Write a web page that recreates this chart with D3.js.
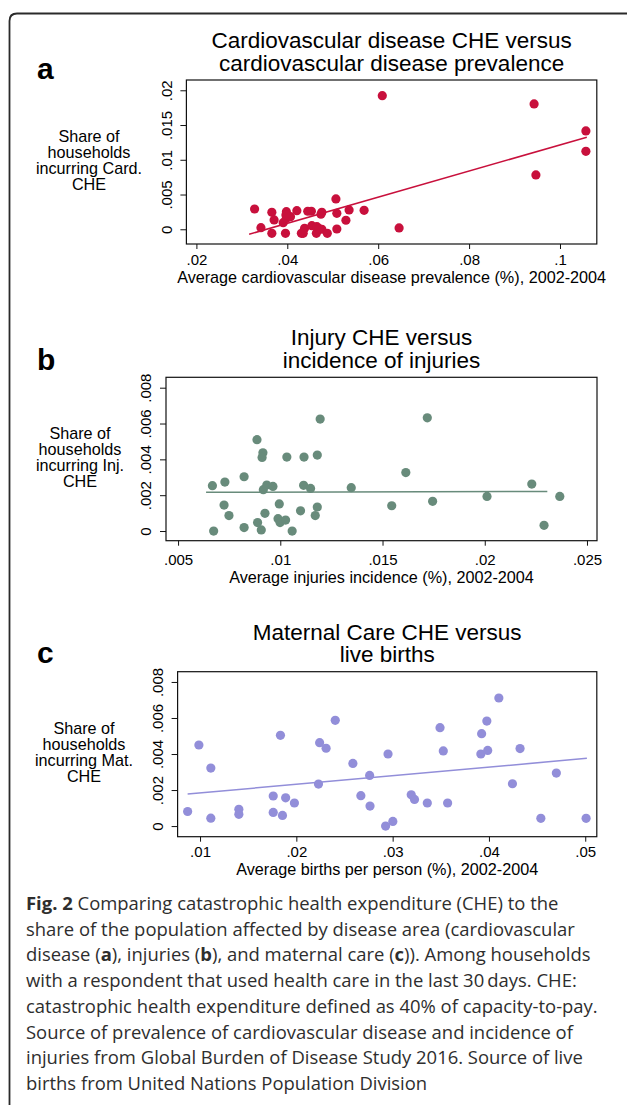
<!DOCTYPE html>
<html>
<head>
<meta charset="utf-8">
<script src="https://cdn.jsdelivr.net/npm/d3@7"></script>
<style>
html,body{margin:0;padding:0;background:#fff;}
svg{display:block;}
</style>
</head>
<body>
<svg id="chart" width="627" height="1105"></svg>
<script>
// ---------------- DATA ----------------
// Panel a: cardiovascular disease
const cardX = [0.0609,0.0943,0.1057,0.1057,0.0947,0.0646,0.0507,0.0328,0.0366,0.0398,0.0421,0.0445,0.0453,0.0476,0.0474,0.0509,0.0536,0.0569,0.0529,0.0342,0.0371,0.0391,0.0398,0.0407,0.0397,0.0366,0.0396,0.0431,0.0438,0.0454,0.0465,0.0464,0.0476,0.0488,0.0509,0.0435,0.0470];
const cardY = [0.01923,0.01803,0.01415,0.01122,0.00782,0.0002,0.00436,0.00292,0.00245,0.00253,0.00268,0.00259,0.00259,0.00245,0.00216,0.0023,0.00278,0.00273,0.0013,0.00023,0.00134,0.00095,0.00158,0.00181,0.00206,-0.00058,-0.00058,-0.00058,0.00014,0.00052,0.00037,-0.00058,0.0,-0.00058,0.00004,-0.00058,0.0001];
const cardFitX = [0.0316, 0.1059];
const cardFitY = [-0.00072, 0.01324];
const cardXTicks = [0.02,0.04,0.06,0.08,0.1];
const cardXTickLabels = [".02",".04",".06",".08",".1"];
const cardYTicks = [0,0.005,0.01,0.015,0.02];
const cardYTickLabels = ["0",".005",".01",".015",".02"];

// Panel b: injuries
const injX = [0.00668,0.00729,0.00823,0.00886,0.00915,0.00911,0.00917,0.00934,0.00964,0.01032,0.01116,0.01181,0.01195,0.01114,0.01148,0.01347,0.01719,0.01614,0.01545,0.01745,0.02011,0.0223,0.02367,0.0229,0.00674,0.00725,0.00749,0.00823,0.00889,0.00907,0.00925,0.00995,0.00989,0.00999,0.01026,0.01058,0.01099,0.01171,0.01181];
const injY = [0.00253,0.00273,0.00303,0.0051,0.00437,0.00411,0.00231,0.00257,0.00249,0.00413,0.00413,0.00424,0.00625,0.00255,0.00238,0.00242,0.00632,0.00326,0.00141,0.00166,0.00193,0.00262,0.00193,0.00032,0.0,0.00145,0.00086,0.00019,0.00047,0.00006,0.00099,0.00151,0.00069,0.00047,0.00061,0.0,0.00113,0.00086,0.00134];
const injFitX = [0.00637, 0.02306];
const injFitY = [0.00216, 0.00221];
const injXTicks = [0.005,0.01,0.015,0.02,0.025];
const injXTickLabels = [".005",".01",".015",".02",".025"];
const injYTicks = [0,0.002,0.004,0.006,0.008];
const injYTickLabels = ["0",".002",".004",".006",".008"];

// Panel c: maternal care
const matX = [0.00871,0.00988,0.01112,0.01112,0.01403,0.01403,0.0176,0.0176,0.01835,0.01856,0.01889,0.0198,0.02242,0.02309,0.0223,0.02404,0.02587,0.0267,0.02761,0.02765,0.02952,0.02927,0.03002,0.03193,0.03227,0.0336,0.03492,0.03526,0.03571,0.03924,0.03916,0.03978,0.03987,0.04103,0.04244,0.04323,0.04539,0.0470,0.05009];
const matY = [0.00081,0.0045,0.00322,0.00044,0.00093,0.00065,0.00167,0.00076,0.00504,0.00059,0.00157,0.00128,0.00463,0.00432,0.00233,0.00587,0.00348,0.00169,0.00281,0.00111,0.004,0.0,0.00026,0.00174,0.00148,0.00128,0.00546,0.00417,0.00128,0.00513,0.004,0.00583,0.0042,0.00711,0.00235,0.0043,0.00043,0.00294,0.00043];
const matFitX = [0.00871, 0.05017];
const matFitY = [0.00178, 0.00376];
const matXTicks = [0.01,0.02,0.03,0.04,0.05];
const matXTickLabels = [".01",".02",".03",".04",".05"];
const matYTicks = [0,0.002,0.004,0.006,0.008];
const matYTickLabels = ["0",".002",".004",".006",".008"];

// Texts
const panelLetters = ["a","b","c"];
const panelTitles = [
  ["Cardiovascular disease CHE versus","cardiovascular disease prevalence"],
  ["Injury CHE versus","incidence of injuries"],
  ["Maternal Care CHE versus","live births"]
];
const yTitles = [
  ["Share of","households","incurring Card.","CHE"],
  ["Share of","households","incurring Inj.","CHE"],
  ["Share of","households","incurring Mat.","CHE"]
];
const xTitles = [
  "Average cardiovascular disease prevalence (%), 2002-2004",
  "Average injuries incidence (%), 2002-2004",
  "Average births per person (%), 2002-2004"
];
const captionLines = [
  [["Fig. 2",true],[" Comparing catastrophic health expenditure (CHE) to the",false]],
  [["share of the population affected by disease area (cardiovascular",false]],
  [["disease (",false],["a",true],["), injuries (",false],["b",true],["), and maternal care (",false],["c",true],[")). Among households",false]],
  [["with a respondent that used health care in the last 30\u2009days. CHE:",false]],
  [["catastrophic health expenditure defined as 40% of capacity-to-pay.",false]],
  [["Source of prevalence of cardiovascular disease and incidence of",false]],
  [["injuries from Global Burden of Disease Study 2016. Source of live",false]],
  [["births from United Nations Population Division",false]]
];

// ---------------- LAYOUT ----------------
const svg = d3.select("#chart");
const FONT = "'Liberation Sans', Arial, Helvetica, sans-serif";

// outer rounded border (open on right and bottom)
svg.append("path")
  .attr("d","M9.5,1110 L9.5,21 Q9.5,13.5 17,13.5 L640,13.5")
  .attr("fill","none").attr("stroke","#2a2a2a").attr("stroke-width",1.8);

const panels = [
  {x:cardX,y:cardY,fx:cardFitX,fy:cardFitY,xt:cardXTicks,xtl:cardXTickLabels,yt:cardYTicks,ytl:cardYTickLabels,
   color:"#c8103c", left:186.4,right:596.8,top:80,bottom:244,
   xd:[0.0178,0.1081], yd:[-0.00212,0.02148],
   xLabOff:21, xTitleY:282.5, yTitleX:89, yTitleBase:141.5, titleBase:[47.5,70.5], letterBase:78.5},
  {x:injX,y:injY,fx:injFitX,fy:injFitY,xt:injXTicks,xtl:injXTickLabels,yt:injYTicks,ytl:injYTickLabels,
   color:"#688b7b", left:166,right:597,top:377.3,bottom:540.7,
   xd:[0.00441,0.02549], yd:[-0.00054,0.00858],
   xLabOff:24, xTitleY:582.5, yTitleX:80, yTitleBase:438.5, titleBase:[344.7,368], letterBase:370},
  {x:matX,y:matY,fx:matFitX,fy:matFitY,xt:matXTicks,xtl:matXTickLabels,yt:matYTicks,ytl:matYTickLabels,
   color:"#928ed9", left:177.6,right:596.8,top:671.7,bottom:836.7,
   xd:[0.00767,0.0512], yd:[-0.00059,0.00857],
   xLabOff:20.7, xTitleY:874.5, yTitleX:84, yTitleBase:733.5, titleBase:[639.7,662.3], letterBase:663.3}
];

panels.forEach((p,i)=>{
  const g = svg.append("g");
  const x = d3.scaleLinear().domain(p.xd).range([p.left,p.right]);
  const y = d3.scaleLinear().domain(p.yd).range([p.bottom,p.top]);
  const cx = (p.left+p.right)/2;

  // panel letter
  g.append("text").attr("x",37).attr("y",p.letterBase)
    .attr("font-family",FONT).attr("font-weight","bold").attr("font-size",30)
    .attr("fill","#000").text(panelLetters[i]);

  // title
  panelTitles[i].forEach((t,k)=>{
    g.append("text").attr("x",cx).attr("y",p.titleBase[k]).attr("text-anchor","middle")
      .attr("font-family",FONT).attr("font-size",22.5).attr("fill","#000").text(t);
  });

  // y title
  yTitles[i].forEach((t,k)=>{
    g.append("text").attr("x",p.yTitleX).attr("y",p.yTitleBase+k*16.2).attr("text-anchor","middle")
      .attr("font-family",FONT).attr("font-size",16.2).attr("fill","#000").text(t);
  });

  // x title
  g.append("text").attr("x",cx).attr("y",p.xTitleY).attr("text-anchor","middle")
    .attr("font-family",FONT).attr("font-size",16.2).attr("fill","#000").text(xTitles[i]);

  // frame
  g.append("rect").attr("x",p.left).attr("y",p.top)
    .attr("width",p.right-p.left).attr("height",p.bottom-p.top)
    .attr("fill","none").attr("stroke","#111").attr("stroke-width",1.2);

  // x axis
  const xa = g.append("g").attr("transform",`translate(0,${p.bottom})`)
    .call(d3.axisBottom(x).tickValues(p.xt).tickFormat((d,j)=>p.xtl[j]).tickSize(5));
  xa.select(".domain").remove();
  xa.selectAll("line").attr("stroke","#111").attr("stroke-width",1);
  xa.selectAll("text").attr("y",p.xLabOff).attr("dy",null)
    .attr("font-family",FONT).attr("font-size",15).attr("fill","#000");

  // y axis
  const ya = g.append("g").attr("transform",`translate(${p.left},0)`)
    .call(d3.axisLeft(y).tickValues(p.yt).tickFormat((d,j)=>p.ytl[j]).tickSize(6));
  ya.select(".domain").remove();
  ya.selectAll("line").attr("stroke","#111").attr("stroke-width",1);
  ya.selectAll("text").attr("x",null).attr("dy",null)
    .attr("transform","translate(-14.6,0) rotate(-90)")
    .attr("text-anchor","middle")
    .attr("font-family",FONT).attr("font-size",15).attr("fill","#000");

  // points
  const pts = p.x.map((v,j)=>[v,p.y[j]]);
  g.append("g").selectAll("circle").data(pts).join("circle")
    .attr("cx",d=>x(d[0])).attr("cy",d=>y(d[1])).attr("r",4.6)
    .attr("fill",p.color);

  // fitted line
  const fit = p.fx.map((v,j)=>[v,p.fy[j]]);
  g.append("path").datum(fit)
    .attr("d",d3.line().x(d=>x(d[0])).y(d=>y(d[1])))
    .attr("fill","none").attr("stroke",p.color).attr("stroke-width",1.5);
});

// ---------------- CAPTION ----------------
const CAP_FONT = "'Open Sans', 'Noto Sans', sans-serif";
const capG = svg.append("g");
const capTexts = captionLines.map((parts,k)=>{
  const t = capG.append("text").attr("x",26).attr("y",910+k*25.7)
    .attr("font-family",CAP_FONT).attr("font-size",16).attr("fill","#2e2e2e");
  parts.forEach(([s,b])=>{
    t.append("tspan").attr("font-weight",b?"bold":"normal").text(s);
  });
  return t;
});
// fit font size so the longest line spans the measured caption width
const w5 = capTexts[4].node().getComputedTextLength();
const fs = 16*572/w5;
capTexts.forEach(t=>t.attr("font-size",fs));
</script>
</body>
</html>
